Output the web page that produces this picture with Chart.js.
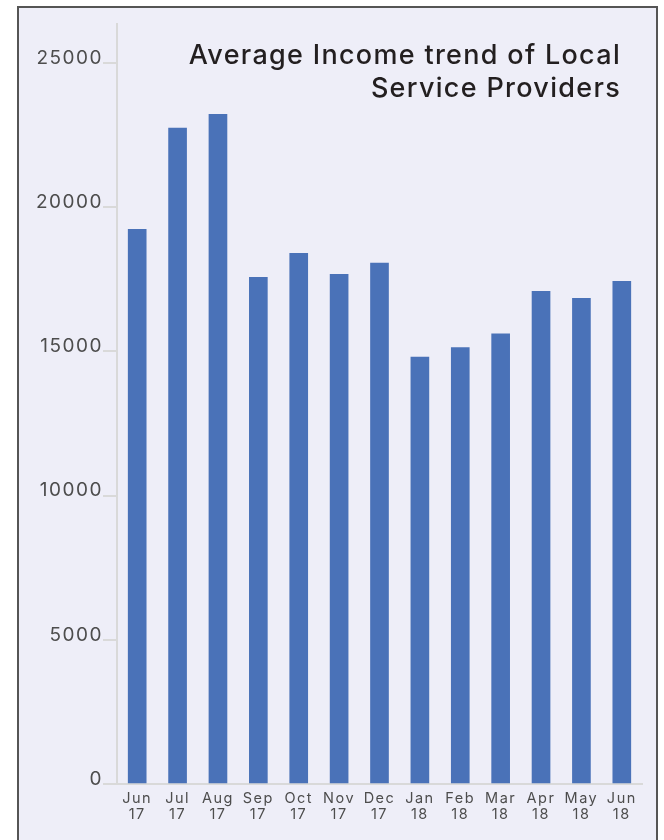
<!DOCTYPE html>
<html>
<head>
<meta charset="utf-8">
<script src="https://cdn.jsdelivr.net/npm/chart.js@4"></script>
<style>
  html, body { margin: 0; padding: 0; background: #ffffff; overflow: hidden; }
  body { width: 664px; height: 840px; position: relative; }
  #panel {
    position: absolute; left: 17px; top: 6px;
    width: 637px; height: 840px;
    border: 2px solid #555555;
    background: #eeeef8;
  }
  #wrap { position: absolute; left: 0; top: 0; width: 637px; height: 832px; }
</style>
</head>
<body>
<div id="panel"><div id="wrap"><canvas id="c"></canvas></div></div>
<script>
// ---- data ----
const categories = ['Jun 17','Jul 17','Aug 17','Sep 17','Oct 17','Nov 17','Dec 17','Jan 18','Feb 18','Mar 18','Apr 18','May 18','Jun 18'];
const incomeValues = [19230, 22740, 23220, 17570, 18400, 17670, 18060, 14800, 15130, 15610, 17080, 16840, 17430];
const yTickValues = [0, 5000, 10000, 15000, 20000, 25000];
const titleLines = ['Average Income trend of Local', 'Service Providers'];

const FONT = 'Inter, "Open Sans", sans-serif';

const spacing = {
  id: 'spacing',
  beforeDraw(chart) { if ('letterSpacing' in chart.ctx) chart.ctx.letterSpacing = '1.5px'; },
  afterDraw(chart) { if ('letterSpacing' in chart.ctx) chart.ctx.letterSpacing = '0px'; }
};

const innerTitle = {
  id: 'innerTitle',
  afterDraw(chart) {
    const ctx = chart.ctx;
    const lines = chart.options.plugins.innerTitle.lines;
    ctx.save();
    ctx.fillStyle = '#231f20';
    ctx.font = '500 27px ' + FONT;
    if ('letterSpacing' in ctx) ctx.letterSpacing = '1.3px';
    ctx.textAlign = 'right';
    ctx.textBaseline = 'alphabetic';
    const x = chart.chartArea.right - 21;
    let y = chart.chartArea.top + 40;
    lines.forEach(l => { ctx.fillText(l, x, y); y += 32.5; });
    ctx.restore();
  }
};

new Chart(document.getElementById('c'), {
  type: 'bar',
  data: {
    labels: categories,
    datasets: [{
      label: 'Average Income',
      data: incomeValues,
      backgroundColor: '#4a72b8',
      borderWidth: 0,
      barThickness: 18
    }]
  },
  options: {
    responsive: true,
    maintainAspectRatio: false,
    animation: false,
    layout: { padding: { left: 0, right: 14, top: 16, bottom: 0 } },
    plugins: {
      legend: { display: false },
      tooltip: { enabled: false },
      title: { display: false },
      innerTitle: { lines: titleLines }
    },
    scales: {
      x: {
        grid: { display: false, drawTicks: false },
        border: { display: true, color: '#d9d9d9', width: 2 },
        ticks: {
          color: '#4d4d4d',
          font: { family: FONT, size: 14.5, lineHeight: 1.15 },
          padding: 6,
          maxRotation: 0,
          autoSkip: false,
          callback: function(v, i) { return categories[i].split(' '); }
        },
        afterFit: function(s) { s.height = 56; }
      },
      y: {
        min: 0,
        max: 26350,
        grid: { drawOnChartArea: false, color: '#d9d9d9', lineWidth: 2, tickLength: 14 },
        border: { display: true, color: '#d9d9d9', width: 2 },
        ticks: {
          color: '#4d4d4d',
          font: { family: FONT, size: 19 },
          padding: 0,
          labelOffset: -5,
          autoSkip: false,
          callback: function(v) { return String(v); }
        },
        afterBuildTicks: function(s) { s.ticks = yTickValues.map(v => ({ value: v })); },
        afterFit: function(s) { s.width = 98; }
      }
    }
  },
  plugins: [spacing, innerTitle]
});
</script>
</body>
</html>
